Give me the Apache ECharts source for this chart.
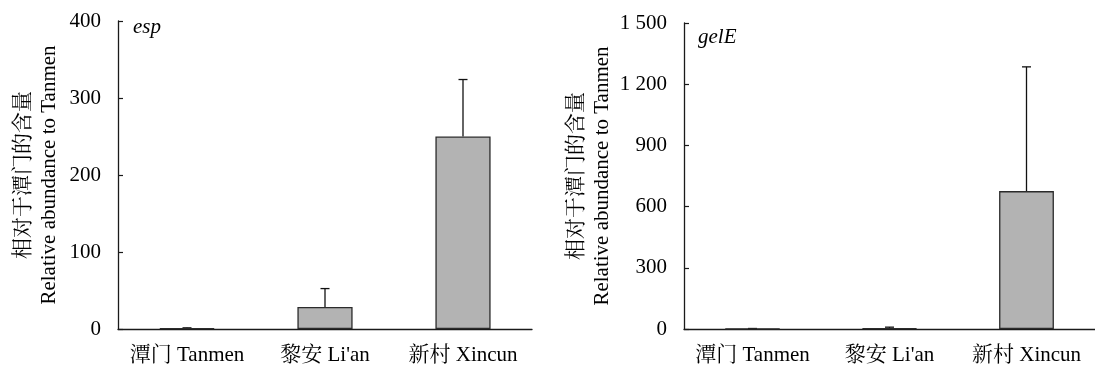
<!DOCTYPE html>
<html>
<head>
<meta charset="utf-8">
<script src="https://cdn.jsdelivr.net/npm/echarts@6/dist/echarts.min.js"></script>
<style>
	html, body { margin: 0; padding: 0; background: #fff; }
	#chart { width: 1095px; height: 367px; }
</style>
</head>
<body>
<div id="chart"></div>
<script>
	var categories = ['潭门 Tanmen', '黎安 Li\'an', '新村 Xincun'];
	// esp
	var espMean = [1, 28.5, 250];
	var espErr = [0.5, 24, 74];
	var espTicks = [0, 100, 200, 300, 400];
	// gelE
	var gelEMean = [1.5, 3, 676];
	var gelEErr = [1, 6, 609];
	var gelETicks = [0, 300, 600, 900, 1200, 1500];

	var fontFamily = "'Times New Roman', 'Liberation Serif', 'Noto Serif CJK SC', 'Noto Sans CJK SC', serif";
	var lineColor = '#1a1a1a';
	var yName = '相对于潭门的含量\nRelative abundance to Tanmen';

	function errData(mean, err) {
		return mean.map(function (m, i) {
			return [i, m, m + err[i]];
		});
	}

	function renderErr(params, api) {
		var base = api.coord([api.value(0), api.value(1)]);
		var top = api.coord([api.value(0), api.value(2)]);
		var half = 4.5;
		var style = { stroke: '#111', lineWidth: 1.3 };
		return {
			type: 'group',
			children: [
				{ type: 'line', shape: { x1: base[0], y1: base[1], x2: top[0], y2: top[1] }, style: style },
				{ type: 'line', shape: { x1: top[0] - half, y1: top[1], x2: top[0] + half, y2: top[1] }, style: style }
			]
		};
	}

	function thousands(v) {
		return String(v).replace(/\B(?=(\d{3})+(?!\d))/g, ' ');
	}

	function xAxis(idx) {
		return {
			type: 'category',
			gridIndex: idx,
			data: categories,
			axisLine: { lineStyle: { color: lineColor, width: 1.3 } },
			axisTick: { inside: true, length: 5, lineStyle: { color: lineColor, width: 1.2 } },
			axisLabel: { interval: 0, color: '#000', fontSize: 21, fontFamily: fontFamily, margin: 16 },
			splitLine: { show: false }
		};
	}

	function yAxis(idx, ticks, gap) {
		return {
			type: 'value',
			gridIndex: idx,
			min: ticks[0],
			max: ticks[ticks.length - 1],
			interval: ticks[1] - ticks[0],
			name: yName,
			nameLocation: 'middle',
			nameGap: gap,
			nameTextStyle: { color: '#000', fontSize: 21, lineHeight: 26, fontFamily: fontFamily },
			axisLine: { show: true, lineStyle: { color: lineColor, width: 1.3 } },
			axisTick: { show: true, inside: true, length: 5, lineStyle: { color: lineColor, width: 1.2 } },
			axisLabel: { color: '#000', fontSize: 21, fontFamily: fontFamily, margin: 17, formatter: thousands },
			splitLine: { show: false }
		};
	}

	var barStyle = { color: '#b3b3b3', borderColor: '#2b2b2b', borderWidth: 1.3 };

	var option = {
		animation: false,
		grid: [
			{ left: 118, top: 21, width: 414, height: 308 },
			{ left: 684, top: 23, width: 417, height: 306 }
		],
		xAxis: [xAxis(0), xAxis(1)],
		yAxis: [yAxis(0, espTicks, 56), yAxis(1, gelETicks, 67)],
		graphic: [
			{ type: 'text', left: 133, top: 17, style: { text: 'esp', font: 'italic 21px ' + fontFamily, fill: '#000' } },
			{ type: 'text', left: 698, top: 27, style: { text: 'gelE', font: 'italic 21px ' + fontFamily, fill: '#000' } }
		],
		series: [
			{ type: 'bar', xAxisIndex: 0, yAxisIndex: 0, data: espMean, barWidth: '40%', itemStyle: barStyle, z: 2 },
			{ type: 'custom', xAxisIndex: 0, yAxisIndex: 0, data: errData(espMean, espErr), renderItem: renderErr, z: 1 },
			{ type: 'bar', xAxisIndex: 1, yAxisIndex: 1, data: gelEMean, barWidth: '40%', itemStyle: barStyle, z: 2 },
			{ type: 'custom', xAxisIndex: 1, yAxisIndex: 1, data: errData(gelEMean, gelEErr), renderItem: renderErr, z: 1 }
		]
	};

	var myChart = echarts.init(document.getElementById('chart'));
	myChart.setOption(option);
</script>
</body>
</html>
